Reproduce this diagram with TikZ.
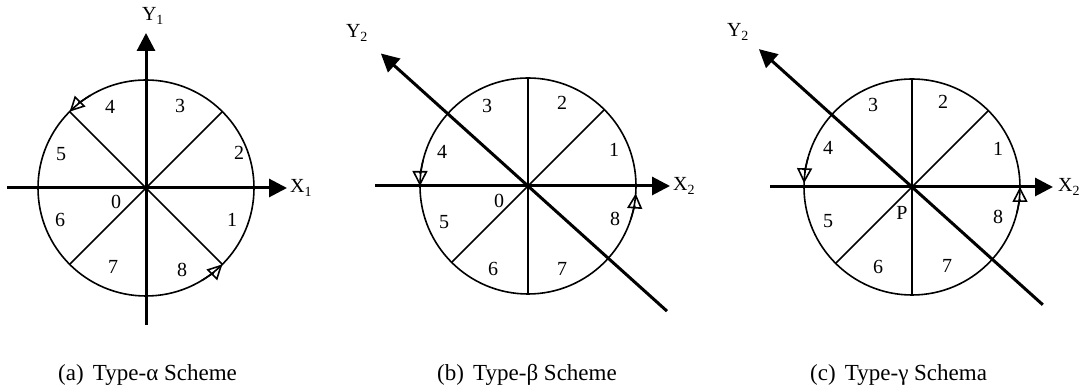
\documentclass[tikz,border=0pt]{standalone}
\usepackage{fontspec}
\setmainfont{Liberation Serif}
\usetikzlibrary{arrows.meta}
\begin{document}
\begin{tikzpicture}[x=1pt,y=1pt,
  axis/.style={line width=3pt,-{Triangle[length=18pt,width=18pt]}},
  seg/.style={line width=1.6pt},
  opentri/.style={line width=1.6pt,-{Triangle[open,length=15pt,width=15pt]}},
  num/.style={font=\fontsize{20}{22}\selectfont,inner sep=0pt},
  axlab/.style={font=\fontsize{20}{22}\selectfont,inner sep=0pt},
  captxt/.style={font=\fontsize{23}{26}\selectfont,inner sep=0pt,anchor=base west}]
\useasboundingbox (0,0) rectangle (1090,390);

% ---------------- (a) ----------------
\coordinate (a-c) at (146,202);
\draw[seg] (a-c) circle[radius=108];
\coordinate (a-ne) at ([shift={(45:108)}]a-c);
\coordinate (a-sw) at ([shift={(225:108)}]a-c);
\coordinate (a-nw) at ([shift={(135:108)}]a-c);
\coordinate (a-se) at ([shift={(-45:108)}]a-c);
\draw[seg] (a-ne) -- (a-sw);
\draw[seg] (a-nw) -- (a-se);
\coordinate (a-xl) at (7,202);
\coordinate (a-xr) at (287,202);
\coordinate (a-yb) at (146,65);
\coordinate (a-yt) at (146,357);
\draw[axis] (a-xl) -- (a-xr);
\draw[axis] (a-yb) -- (a-yt);
\node[axlab,anchor=west] (a-xlab) at ([xshift=3pt]a-xr) {X\textsubscript{1}};
\node[axlab] (a-ylab) at (153,374) {Y\textsubscript{1}};
\draw[opentri] ([shift={(121:108)}]a-c) arc[start angle=121,end angle=135,radius=108];
\draw[opentri] ([shift={(-59:108)}]a-c) arc[start angle=-59,end angle=-45,radius=108];
\node[num] (a-n3) at (180,284) {3};
\node[num] (a-n4) at (110,283) {4};
\node[num] (a-n2) at (239,237) {2};
\node[num] (a-n5) at (61,236) {5};
\node[num] (a-n1) at (232,170) {1};
\node[num] (a-n6) at (60,170) {6};
\node[num] (a-n7) at (113,123) {7};
\node[num] (a-n8) at (182,120) {8};
\node[num] (a-n0) at (116,188) {0};
\node[captxt] (a-cap) at (58,9) {(a)\hspace{0.4em}Type-α Scheme};

% ---------------- (b) ----------------
\coordinate (b-c) at (528,204);
\draw[seg] (b-c) circle[radius=108];
\coordinate (b-n) at ([shift={(90:108)}]b-c);
\coordinate (b-s) at ([shift={(-90:108)}]b-c);
\coordinate (b-ne) at ([shift={(45:108)}]b-c);
\coordinate (b-sw) at ([shift={(225:108)}]b-c);
\draw[seg] (b-n) -- (b-s);
\draw[seg] (b-ne) -- (b-sw);
\coordinate (b-xl) at (375,204);
\coordinate (b-xr) at (670,204);
\coordinate (b-yb) at ([shift={(-42:187)}]b-c);
\coordinate (b-yt) at ([shift={(138:198)}]b-c);
\draw[axis] (b-xl) -- (b-xr);
\draw[axis] (b-yb) -- (b-yt);
\node[axlab,anchor=west] (b-xlab) at ([xshift=3pt]b-xr) {X\textsubscript{2}};
\node[axlab] (b-ylab) at (357,357) {Y\textsubscript{2}};
\draw[opentri] ([shift={(166:108)}]b-c) arc[start angle=166,end angle=180,radius=108];
\draw[opentri] ([shift={(-18:108)}]b-c) arc[start angle=-18,end angle=-4,radius=108];
\node[num] (b-n3) at (487,284) {3};
\node[num] (b-n2) at (562,287) {2};
\node[num] (b-n1) at (614,240) {1};
\node[num] (b-n4) at (442,238) {4};
\node[num] (b-n0) at (499,189) {0};
\node[num] (b-n5) at (444,168) {5};
\node[num] (b-n8) at (615,171) {8};
\node[num] (b-n6) at (493,121) {6};
\node[num] (b-n7) at (562,121) {7};
\node[captxt] (b-cap) at (437,9) {(b)\hspace{0.4em}Type-β Scheme};

% ---------------- (c) ----------------
\coordinate (c-c) at (912,203);
\draw[seg] (c-c) circle[radius=108];
\coordinate (c-n) at ([shift={(90:108)}]c-c);
\coordinate (c-s) at ([shift={(-90:108)}]c-c);
\coordinate (c-ne) at ([shift={(45:108)}]c-c);
\coordinate (c-sw) at ([shift={(225:108)}]c-c);
\draw[seg] (c-n) -- (c-s);
\draw[seg] (c-ne) -- (c-sw);
\coordinate (c-xl) at (770,203);
\coordinate (c-xr) at (1053,203);
\coordinate (c-yb) at ([shift={(-42:176)}]c-c);
\coordinate (c-yt) at ([shift={(138:206)}]c-c);
\draw[axis] (c-xl) -- (c-xr);
\draw[axis] (c-yb) -- (c-yt);
\node[axlab,anchor=west] (c-xlab) at ([xshift=5pt]c-xr) {X\textsubscript{2}};
\node[axlab] (c-ylab) at (738,358) {Y\textsubscript{2}};
\draw[opentri] ([shift={(164:108)}]c-c) arc[start angle=164,end angle=178,radius=108];
\draw[opentri] ([shift={(-14:108)}]c-c) arc[start angle=-14,end angle=0,radius=108];
\node[num] (c-n3) at (873,285) {3};
\node[num] (c-n2) at (943,288) {2};
\node[num] (c-n1) at (998,241) {1};
\node[num] (c-n4) at (828,242) {4};
\node[num] (c-nP) at (902,177) {P};
\node[num] (c-n5) at (828,169) {5};
\node[num] (c-n8) at (998,173) {8};
\node[num] (c-n6) at (878,123) {6};
\node[num] (c-n7) at (947,124) {7};
\node[captxt] (c-cap) at (810,9) {(c)\hspace{0.4em}Type-γ Schema};
\end{tikzpicture}
\end{document}
